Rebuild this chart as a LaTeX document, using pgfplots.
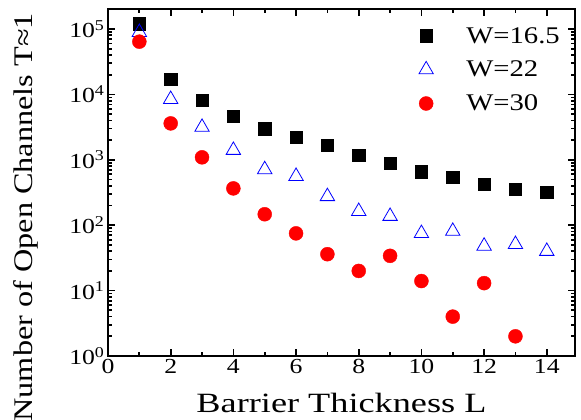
\documentclass[border=0pt]{standalone}
\usepackage{pgfplots}
\pgfplotsset{compat=1.18}
\usepackage{fontspec}
\setmainfont{Liberation Serif}[FakeStretch=1.2]
\newfontfamily\xlabfont{Liberation Serif}[FakeStretch=1.3]
\begin{document}
\begin{tikzpicture}
\begin{axis}[
  scale only axis, width=467bp, height=347bp,
  xmin=0, xmax=14.9,
  ymode=log, ymin=1, ymax=2.02e5,
  xtick={0,2,4,6,8,10,12,14}, minor xtick={1,3,5,7,9,11,13},
  ytick={1,10,100,1000,10000,100000},
  yticklabels={10\textsuperscript{0},10\textsuperscript{1},10\textsuperscript{2},10\textsuperscript{3},10\textsuperscript{4},10\textsuperscript{5}},
  minor ytick={2,3,4,5,6,7,8,9,20,30,40,50,60,70,80,90,200,300,400,500,600,700,800,900,2000,3000,4000,5000,6000,7000,8000,9000,20000,30000,40000,50000,60000,70000,80000,90000,200000},
  tick align=inside, xtick pos=both, ytick pos=both,
  major tick length=7bp, minor tick length=4bp,
  every tick/.style={line width=1.7bp, black},
  axis line style={line width=2.8bp},
  /pgf/number format/assume math mode=true,
  ticklabel style={font=\fontsize{21.5}{24}\selectfont},
  xlabel={Barrier Thickness L},
  ylabel={Number of Open Channels T≈1},
  xlabel style={font=\xlabfont\fontsize{28}{32}\selectfont, at={(axis description cs:0.5,0)}, anchor=base, yshift=-56bp},
  ylabel style={font=\fontsize{27}{32}\selectfont, at={(axis description cs:-0.1606,0.400)}, anchor=base},
  legend style={draw=none, fill=none, at={(1,1)}, anchor=north east, xshift=-10bp, yshift=-14bp,
    font=\fontsize{24}{28}\selectfont, row sep=12.5bp,
    /tikz/every odd column/.append style={column sep=31bp}},
  legend cell align=left,
]
\addplot[only marks, mark=square*, mark size=6.2bp, black] coordinates {
(1,120000) (2,17000) (3,8100) (4,4600) (5,3000) (6,2200) (7,1670) (8,1170) (9,880) (10,660) (11,540) (12,425) (13,355) (14,318)};
\addlegendentry{W=16.5}
\addplot[only marks, mark=triangle, mark size=8.3bp, blue, mark options={line width=0.8bp}] coordinates {
(1,89000) (2,8400) (3,3150) (4,1400) (5,710) (6,560) (7,275) (8,163) (9,137) (10,75) (11,81) (12,48) (13,51) (14,40)};
\addlegendentry{W=22}
\addplot[only marks, mark=*, mark size=7bp, red] coordinates {
(1,64000) (2,3600) (3,1090) (4,365) (5,147) (6,75) (7,36) (8,20) (9,34) (10,14) (11,4) (12,13) (13,2)};
\addlegendentry{W=30}
\end{axis}
\pgfresetboundingbox
\path[use as bounding box] (current axis.south west) ++(-108bp,-64bp) rectangle ([shift={(6bp,9bp)}]current axis.north east);
\end{tikzpicture}
\end{document}
